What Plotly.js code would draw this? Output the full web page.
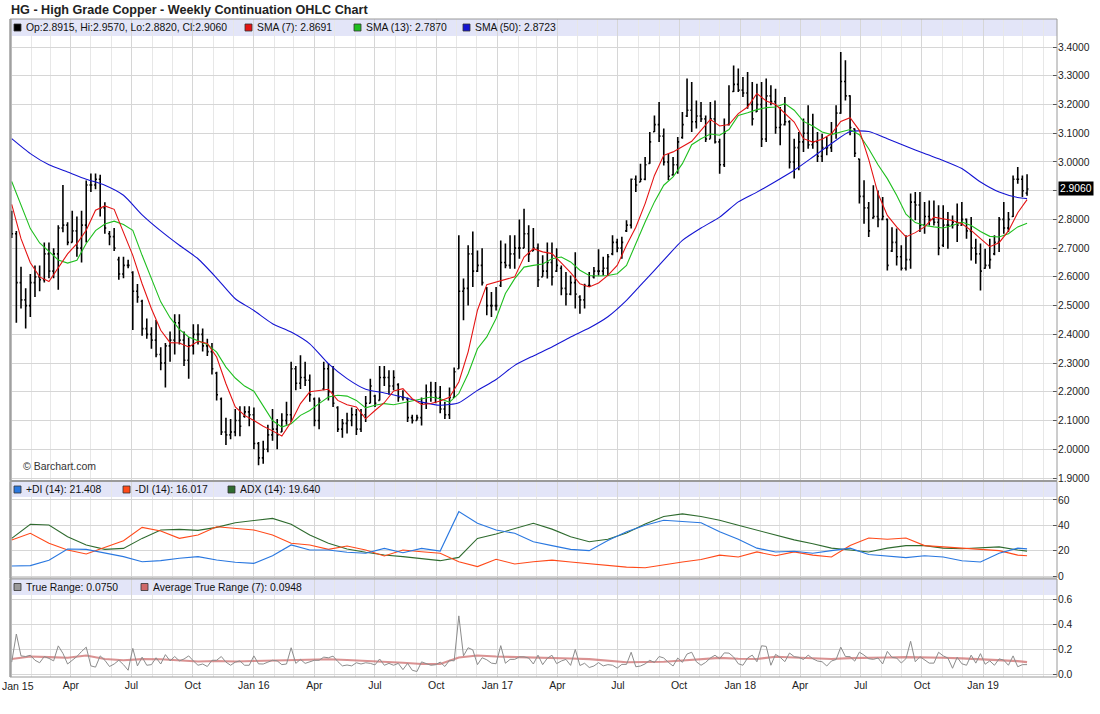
<!DOCTYPE html>
<html><head><meta charset="utf-8">
<script src="https://cdn.plot.ly/plotly-3.0.1.min.js"></script>
<style>html,body{margin:0;padding:0;background:#fff}#chart{width:1100px;height:714px}</style>
</head><body><div id="chart"></div>
<script>
// ---------- DATA (weekly bars, first bar week of 2015-01-02) ----------
const FIRST_WEEK = '2015-01-02';
const OPEN = [2.82,2.75,2.58,2.52,2.50,2.58,2.60,2.59,2.68,2.62,
 2.68,2.77,2.78,2.72,2.76,2.70,2.78,2.92,2.92,2.94,
 2.84,2.75,2.74,2.66,2.61,2.64,2.615,2.55,2.515,2.42,
 2.40,2.38,2.33,2.30,2.36,2.38,2.44,2.38,2.31,2.36,
 2.40,2.40,2.36,2.34,2.265,2.175,2.06,2.05,2.06,2.10,
 2.115,2.13,2.12,2.02,1.97,2.00,2.05,2.07,2.06,2.10,
 2.12,2.28,2.23,2.25,2.24,2.175,2.10,2.21,2.28,2.20,
 2.145,2.07,2.09,2.10,2.12,2.07,2.12,2.16,2.185,2.17,
 2.25,2.25,2.22,2.225,2.18,2.175,2.11,2.10,2.11,2.16,
 2.20,2.20,2.18,2.14,2.12,2.18,2.28,2.55,2.56,2.68,
 2.62,2.64,2.56,2.50,2.50,2.57,2.65,2.64,2.68,2.70,
 2.70,2.75,2.69,2.70,2.60,2.62,2.65,2.62,2.63,2.56,
 2.54,2.58,2.53,2.52,2.57,2.60,2.62,2.62,2.63,2.68,
 2.72,2.70,2.76,2.78,2.94,2.93,2.94,2.995,3.105,3.13,
 3.09,3.00,2.955,2.99,3.085,3.16,3.18,3.14,3.16,3.15,
 3.08,3.15,3.07,2.99,3.13,3.245,3.27,3.25,3.24,3.20,
 3.175,3.20,3.08,3.23,3.21,3.12,3.13,3.14,3.00,3.05,
 3.07,3.10,3.06,3.07,3.02,3.05,3.05,3.10,3.17,3.28,
 3.23,3.115,3.01,2.88,2.84,2.805,2.81,2.80,2.80,2.69,
 2.72,2.67,2.63,2.66,2.86,2.85,2.78,2.81,2.80,2.79,
 2.71,2.78,2.78,2.79,2.78,2.80,2.76,2.70,2.68,2.63,
 2.64,2.68,2.72,2.80,2.77,2.81,2.94,2.94,2.8915];
const HIGH = [2.83,2.76,2.635,2.56,2.61,2.64,2.64,2.72,2.72,2.70,
 2.78,2.92,2.79,2.83,2.81,2.83,2.935,2.96,2.96,2.955,
 2.86,2.76,2.77,2.67,2.67,2.66,2.62,2.575,2.52,2.455,
 2.425,2.45,2.355,2.37,2.41,2.47,2.47,2.41,2.39,2.435,
 2.435,2.42,2.385,2.37,2.27,2.18,2.11,2.105,2.14,2.15,
 2.15,2.15,2.145,2.025,2.03,2.085,2.14,2.105,2.125,2.165,
 2.305,2.29,2.327,2.305,2.26,2.18,2.18,2.305,2.30,2.29,
 2.15,2.105,2.127,2.145,2.14,2.14,2.185,2.245,2.19,2.29,
 2.29,2.275,2.275,2.23,2.205,2.18,2.12,2.12,2.18,2.225,
 2.235,2.234,2.22,2.165,2.215,2.285,2.745,2.594,2.71,2.758,
 2.692,2.70,2.565,2.547,2.565,2.727,2.716,2.745,2.745,2.80,
 2.837,2.78,2.77,2.716,2.675,2.72,2.72,2.70,2.64,2.617,
 2.605,2.686,2.536,2.576,2.617,2.634,2.696,2.67,2.68,2.745,
 2.733,2.74,2.797,2.942,2.953,2.994,3.017,3.104,3.162,3.209,
 3.116,3.029,3.017,3.087,3.174,3.29,3.278,3.214,3.209,3.162,
 3.209,3.214,3.081,3.151,3.267,3.336,3.325,3.296,3.313,3.278,
 3.272,3.278,3.29,3.267,3.255,3.191,3.226,3.145,3.081,3.104,
 3.151,3.197,3.168,3.104,3.098,3.087,3.139,3.197,3.383,3.354,
 3.232,3.116,3.011,2.936,2.861,2.919,2.901,2.878,2.803,2.773,
 2.768,2.71,2.745,2.89,2.895,2.895,2.861,2.866,2.866,2.849,
 2.849,2.826,2.814,2.855,2.861,2.803,2.808,2.733,2.716,2.698,
 2.733,2.745,2.808,2.861,2.826,2.953,2.982,2.953,2.957];
const LOW = [2.735,2.44,2.49,2.42,2.46,2.53,2.55,2.58,2.595,2.595,
 2.555,2.755,2.71,2.72,2.67,2.65,2.72,2.895,2.905,2.81,
 2.75,2.71,2.69,2.59,2.595,2.63,2.415,2.51,2.395,2.385,
 2.35,2.32,2.275,2.215,2.305,2.33,2.365,2.29,2.245,2.33,
 2.365,2.34,2.325,2.26,2.17,2.05,2.015,2.035,2.045,2.045,
 2.11,2.08,2.00,1.944,1.95,1.99,2.03,2.00,2.06,2.085,
 2.095,2.205,2.21,2.22,2.165,2.08,2.07,2.205,2.17,2.147,
 2.06,2.04,2.055,2.08,2.05,2.06,2.095,2.16,2.147,2.17,
 2.22,2.19,2.205,2.165,2.17,2.095,2.09,2.10,2.083,2.14,
 2.165,2.16,2.125,2.105,2.105,2.18,2.28,2.449,2.50,2.565,
 2.617,2.57,2.466,2.46,2.483,2.565,2.63,2.628,2.628,2.663,
 2.70,2.652,2.69,2.565,2.60,2.594,2.57,2.617,2.536,2.50,
 2.536,2.49,2.472,2.49,2.565,2.594,2.605,2.605,2.605,2.675,
 2.686,2.663,2.756,2.768,2.895,2.93,2.936,2.994,3.104,3.069,
 2.988,2.936,2.953,2.959,3.081,3.156,3.104,3.116,3.139,3.069,
 3.081,3.064,2.959,2.982,3.127,3.243,3.243,3.226,3.185,3.127,
 3.174,3.052,3.069,3.197,3.098,3.058,3.127,2.977,2.942,2.971,
 3.035,3.046,3.046,3.00,3.00,3.023,3.035,3.081,3.168,3.214,
 3.093,3.017,2.855,2.785,2.739,2.802,2.773,2.797,2.622,2.687,
 2.64,2.622,2.622,2.628,2.797,2.756,2.75,2.779,2.779,2.675,
 2.704,2.698,2.768,2.721,2.779,2.733,2.657,2.646,2.553,2.628,
 2.628,2.675,2.687,2.75,2.756,2.808,2.924,2.878,2.882];
const CLOSE = [2.75,2.58,2.52,2.50,2.58,2.60,2.59,2.68,2.62,2.68,
 2.77,2.78,2.72,2.76,2.70,2.78,2.92,2.92,2.94,2.84,
 2.77,2.74,2.70,2.61,2.64,2.64,2.55,2.53,2.42,2.40,
 2.38,2.33,2.30,2.36,2.38,2.44,2.38,2.31,2.36,2.40,
 2.40,2.36,2.34,2.28,2.19,2.06,2.05,2.06,2.10,2.08,
 2.13,2.12,2.02,1.97,2.00,2.05,2.07,2.05,2.10,2.12,
 2.28,2.23,2.25,2.24,2.19,2.10,2.17,2.28,2.20,2.16,
 2.07,2.09,2.10,2.12,2.07,2.12,2.16,2.22,2.16,2.25,
 2.25,2.22,2.25,2.18,2.18,2.11,2.10,2.11,2.16,2.20,
 2.20,2.18,2.14,2.12,2.18,2.27,2.55,2.56,2.68,2.62,
 2.64,2.58,2.50,2.50,2.50,2.65,2.64,2.68,2.70,2.70,
 2.75,2.68,2.70,2.59,2.62,2.65,2.60,2.64,2.56,2.54,
 2.58,2.54,2.52,2.57,2.57,2.62,2.62,2.63,2.67,2.72,
 2.70,2.72,2.78,2.94,2.92,2.94,2.99,3.07,3.13,3.09,
 3.00,2.95,2.99,3.07,3.13,3.18,3.14,3.16,3.15,3.08,
 3.15,3.07,2.99,3.10,3.20,3.27,3.25,3.24,3.20,3.15,
 3.20,3.08,3.23,3.21,3.12,3.13,3.14,3.00,3.05,3.07,
 3.10,3.06,3.07,3.02,3.05,3.05,3.10,3.17,3.28,3.23,
 3.12,3.03,2.88,2.84,2.76,2.81,2.80,2.81,2.64,2.72,
 2.67,2.63,2.66,2.86,2.85,2.78,2.81,2.80,2.79,2.70,
 2.78,2.78,2.79,2.78,2.80,2.76,2.70,2.68,2.62,2.64,
 2.66,2.72,2.80,2.77,2.80,2.94,2.94,2.90,2.906];
const TRUE_RANGE = [0.095,0.32,0.145,0.14,0.15,0.11,0.09,0.14,0.125,0.105,
 0.225,0.165,0.08,0.11,0.14,0.18,0.215,0.065,0.055,0.145,
 0.11,0.06,0.08,0.11,0.075,0.03,0.205,0.065,0.135,0.07,
 0.075,0.13,0.08,0.155,0.105,0.14,0.105,0.12,0.145,0.105,
 0.07,0.08,0.06,0.11,0.11,0.14,0.095,0.07,0.095,0.105,
 0.07,0.07,0.145,0.081,0.08,0.095,0.11,0.105,0.075,0.08,
 0.21,0.085,0.117,0.085,0.095,0.11,0.11,0.135,0.13,0.143,
 0.10,0.065,0.072,0.065,0.09,0.08,0.09,0.085,0.073,0.12,
 0.07,0.085,0.07,0.085,0.035,0.085,0.03,0.02,0.097,0.085,
 0.07,0.074,0.095,0.06,0.11,0.105,0.465,0.145,0.21,0.193,
 0.075,0.13,0.114,0.087,0.082,0.227,0.086,0.117,0.117,0.137,
 0.137,0.128,0.08,0.151,0.075,0.126,0.15,0.083,0.104,0.117,
 0.069,0.196,0.068,0.086,0.052,0.064,0.091,0.065,0.075,0.07,
 0.047,0.077,0.077,0.174,0.058,0.064,0.081,0.11,0.092,0.14,
 0.128,0.093,0.064,0.128,0.093,0.16,0.174,0.098,0.07,0.093,
 0.128,0.15,0.122,0.169,0.167,0.136,0.082,0.07,0.128,0.151,
 0.098,0.226,0.221,0.07,0.157,0.133,0.099,0.168,0.139,0.133,
 0.116,0.151,0.122,0.104,0.098,0.064,0.104,0.116,0.215,0.14,
 0.139,0.103,0.175,0.151,0.122,0.117,0.128,0.081,0.181,0.133,
 0.128,0.088,0.123,0.262,0.098,0.139,0.111,0.087,0.087,0.174,
 0.145,0.128,0.046,0.134,0.082,0.07,0.151,0.087,0.163,0.078,
 0.105,0.07,0.121,0.111,0.07,0.145,0.058,0.075,0.075];

// moving averages every 2nd week (weeks 0,2,4,...,218)
const SMA7 = [2.852,2.733,2.649,2.60,2.584,2.634,2.68,2.716,2.762,2.832,2.847,2.835,2.756,2.675,2.576,2.489,2.414,2.371,2.37,2.356,2.376,2.368,
 2.321,2.228,2.147,2.118,2.10,2.08,2.064,2.046,2.095,2.159,2.20,2.205,2.209,2.17,2.155,2.147,2.106,2.135,2.162,2.203,2.211,2.176,
 2.156,2.159,2.168,2.181,2.234,2.339,2.484,2.573,2.582,2.591,2.60,2.669,2.698,2.687,2.681,2.649,2.615,2.576,2.565,2.579,2.605,2.64,
 2.71,2.773,2.855,2.953,3.023,3.035,3.052,3.072,3.11,3.148,3.125,3.13,3.168,3.191,3.238,3.212,3.20,3.168,3.139,3.081,3.069,3.079,
 3.098,3.141,3.154,3.11,3.009,2.89,2.814,2.774,2.739,2.754,2.774,2.808,2.803,2.796,2.785,2.762,2.733,2.705,2.719,2.76,2.823,2.869];
const SMA13 = [2.932,2.847,2.768,2.718,2.689,2.659,2.648,2.658,2.716,2.761,2.784,2.794,2.782,2.762,2.675,2.594,2.513,2.458,2.417,2.391,2.377,2.365,
 2.338,2.286,2.248,2.22,2.202,2.153,2.10,2.077,2.089,2.118,2.135,2.159,2.182,2.188,2.185,2.17,2.144,2.153,2.159,2.155,2.162,2.167,
 2.176,2.182,2.176,2.164,2.194,2.263,2.35,2.391,2.455,2.542,2.594,2.634,2.64,2.645,2.663,2.669,2.652,2.623,2.605,2.603,2.605,2.611,
 2.64,2.716,2.791,2.861,2.919,2.948,2.994,3.06,3.081,3.097,3.093,3.113,3.162,3.171,3.182,3.189,3.191,3.203,3.18,3.141,3.125,3.104,
 3.095,3.104,3.113,3.095,3.046,2.99,2.942,2.884,2.818,2.789,2.779,2.774,2.77,2.779,2.791,2.779,2.758,2.741,2.739,2.75,2.774,2.787];

// slower series read every 4th week, plus the last bar
const SLOW_WEEKS = [0,4,8,12,16,20,24,28,32,36,40,44,48,52,56,60,64,68,72,76,80,84,88,92,96,100,104,108,112,116,120,124,128,132,136,140,144,148,152,156,160,164,168,172,176,180,184,188,192,196,200,204,208,212,216,218];
const SMA50 = [3.081,3.029,2.99,2.965,2.94,2.919,2.884,2.816,2.76,2.71,2.663,
 2.596,2.524,2.483,2.437,2.408,2.367,2.298,2.246,2.209,2.196,2.182,
 2.164,2.153,2.162,2.205,2.243,2.292,2.325,2.356,2.391,2.422,2.461,
 2.518,2.588,2.658,2.727,2.77,2.808,2.861,2.895,2.932,2.971,3.017,
 3.064,3.106,3.106,3.081,3.055,3.029,3.005,2.977,2.93,2.895,2.876,2.8723];
const PLUS_DI = [7.9,8.2,12.4,21.3,21,17.9,15.3,11.3,12.1,14,15.3,
 12.6,10.8,10,16,24.5,20.5,20.5,18.7,17.9,21.8,18.4,
 21.8,19.7,50.8,41.6,36.3,33.7,27.1,24,21,20,28,
 35,40,44,43,42,35,29,22,19,19.5,18,
 20,22,17,16,14.5,16,15,12,11,18,22,21.408];
const MINUS_DI = [28.4,33.7,25.8,20.5,17.4,22.6,27.9,38.4,35.5,29.7,32.4,
 38.9,37.6,36.3,32.4,25.8,24.5,21,23.7,20.5,15.8,20.5,
 19.2,17.9,11.3,7.4,13.2,9.5,11.3,12.5,11,9.5,8.5,
 7,6.5,9,11,13,16.5,15,19,16,19,16.5,
 15,24,30,29,30,24,23,22,21,20,16.5,16.017];
const ADX = [29.7,40.8,40.3,31,24.5,21,21.8,29.7,36.3,36.8,36,
 38.4,42.1,43.7,45.5,40.8,32.4,25.8,21.3,18.7,16.6,15.3,
 13.4,12.1,14.7,29.7,33.2,37.1,41.6,37,31,27,29,
 34,41,47,49,47,44,40,36,32,28.5,25.5,
 22,20.5,19,22,24,24,22,21.5,22,23,20.5,19.64];
const ATR7 = [0.12,0.14,0.135,0.13,0.148,0.12,0.11,0.119,0.118,0.11,0.10,
 0.104,0.10,0.104,0.108,0.113,0.118,0.118,0.112,0.106,0.097,0.09,
 0.08,0.08,0.132,0.148,0.14,0.137,0.135,0.13,0.124,0.119,0.108,
 0.094,0.096,0.098,0.108,0.119,0.129,0.122,0.12,0.138,0.132,0.127,
 0.12,0.127,0.132,0.132,0.135,0.135,0.13,0.125,0.118,0.112,0.103,0.0948];

const TICK_DATES = ['2015-01-01','2015-04-01','2015-07-01','2015-10-01','2016-01-01','2016-04-01','2016-07-01','2016-10-01','2017-01-01','2017-04-01','2017-07-01','2017-10-01','2018-01-01','2018-04-01','2018-07-01','2018-10-01','2019-01-01'];
const TICK_LABELS = ['Jan 15','Apr','Jul','Oct','Jan 16','Apr','Jul','Oct','Jan 17','Apr','Jul','Oct','Jan 18','Apr','Jul','Oct','Jan 19'];
const PRICE_TICKS = [1.9,2.0,2.1,2.2,2.3,2.4,2.5,2.6,2.7,2.8,2.9,3.0,3.1,3.2,3.3,3.4];
const LAST_CLOSE = 2.906;

// ---------- helpers ----------
const DAY = 86400000;
const t0 = Date.parse(FIRST_WEEK + 'T00:00:00Z');
const weekDate = i => new Date(t0 + i * 7 * DAY).toISOString().slice(0, 10);
const dates = CLOSE.map((_, i) => weekDate(i));
const fastX = SMA7.map((_, k) => weekDate(2 * k));
const slowX = SLOW_WEEKS.map(weekDate);

// pixel -> paper helpers (plot area: x 10..1057, y 19..677)
const PL = 10, PR = 1057, PT = 19, PB = 677;
const px = x => (x - PL) / (PR - PL);
const py = y => (PB - y) / (PB - PT);

const FONT = 'Liberation Sans, Arial, Helvetica, sans-serif';
const GRID = '#d6d6d6';
const LEG = 10.4;

const traces = [
  { type: 'ohlc', x: dates, open: OPEN, high: HIGH, low: LOW, close: CLOSE,
    xaxis: 'x', yaxis: 'y', tickwidth: 0.3,
    increasing: { line: { color: '#000', width: 1.6 } },
    decreasing: { line: { color: '#000', width: 1.6 } }, hoverinfo: 'skip' },
  { type: 'scatter', mode: 'lines', x: slowX, y: SMA50, line: { color: '#1414d2', width: 1.1, shape: 'spline', smoothing: 0.6 }, xaxis: 'x', yaxis: 'y' },
  { type: 'scatter', mode: 'lines', x: fastX, y: SMA13, line: { color: '#1fbf1f', width: 1.1 }, xaxis: 'x', yaxis: 'y' },
  { type: 'scatter', mode: 'lines', x: fastX, y: SMA7, line: { color: '#e41414', width: 1.1 }, xaxis: 'x', yaxis: 'y' },
  { type: 'scatter', mode: 'lines', x: slowX, y: ADX, line: { color: '#2f6b2f', width: 1.1 }, xaxis: 'x', yaxis: 'y2' },
  { type: 'scatter', mode: 'lines', x: slowX, y: MINUS_DI, line: { color: '#ff4a1a', width: 1.1 }, xaxis: 'x', yaxis: 'y2' },
  { type: 'scatter', mode: 'lines', x: slowX, y: PLUS_DI, line: { color: '#2a78e0', width: 1.1 }, xaxis: 'x', yaxis: 'y2' },
  { type: 'scatter', mode: 'lines', x: slowX, y: ATR7, line: { color: 'rgba(205,110,110,0.75)', width: 2.2 }, xaxis: 'x', yaxis: 'y3' },
  { type: 'scatter', mode: 'lines', x: dates, y: TRUE_RANGE, line: { color: '#8c8c8c', width: 1 }, xaxis: 'x', yaxis: 'y3' }
];

const yCommon = {
  side: 'right', showgrid: true, gridcolor: GRID, gridwidth: 1, zeroline: false,
  ticks: 'inside', ticklen: 4, tickcolor: '#555', showline: false,
  tickfont: { family: FONT, size: 10.3, color: '#222' }, fixedrange: true
};

const shapes = [];
const bands = [[19, 36], [481.5, 497], [579, 595]];
bands.forEach(b => shapes.push({ type: 'rect', xref: 'paper', yref: 'paper', x0: 0, x1: 1,
  y0: py(b[1]), y1: py(b[0]), fillcolor: '#e3e5f8', line: { width: 0 }, layer: 'below' }));
const frames = [[19, 480.5], [481.5, 578], [579, 677]];
frames.forEach(f => shapes.push({ type: 'rect', xref: 'paper', yref: 'paper', x0: 0, x1: 1,
  y0: py(f[1]), y1: py(f[0]), line: { color: '#9a9a9a', width: 1 }, fillcolor: 'rgba(0,0,0,0)', layer: 'above' }));
// thicker left border as in the reference
shapes.push({ type: 'line', xref: 'paper', yref: 'paper', x0: px(10.5), x1: px(10.5), y0: 0, y1: 1, line: { color: '#a0a0a0', width: 2 }, layer: 'above' });

const annotations = [];
function legendItem(xSq, yc, color, label) {
  shapes.push({ type: 'rect', xref: 'paper', yref: 'paper', x0: px(xSq), x1: px(xSq + 7),
    y0: py(yc + 3.5), y1: py(yc - 3.5), fillcolor: color, line: { color: '#333', width: 0.8 }, layer: 'above' });
  annotations.push({ xref: 'paper', yref: 'paper', x: px(xSq + 10), y: py(yc), xanchor: 'left', yanchor: 'middle',
    showarrow: false, text: label, font: { family: FONT, size: LEG, color: '#111' } });
}
legendItem(14, 27.5, '#000000', 'Op:2.8915, Hi:2.9570, Lo:2.8820, Cl:2.9060');
legendItem(245, 27.5, '#e41414', 'SMA (7): 2.8691');
legendItem(354, 27.5, '#1fbf1f', 'SMA (13): 2.7870');
legendItem(463, 27.5, '#1414d2', 'SMA (50): 2.8723');
legendItem(14, 489.5, '#2a78e0', '+DI (14): 21.408');
legendItem(123, 489.5, '#ff4a1a', '-DI (14): 16.017');
legendItem(228, 489.5, '#2f6b2f', 'ADX (14): 19.640');
legendItem(14, 587, '#9a9a9a', 'True Range: 0.0750');
legendItem(141, 587, '#d06a6a', 'Average True Range (7): 0.0948');

annotations.push({ xref: 'paper', yref: 'paper', x: px(9), y: py(9.5), xanchor: 'left', yanchor: 'middle', showarrow: false,
  text: '<b>HG - High Grade Copper - Weekly Continuation OHLC Chart</b>', font: { family: FONT, size: 12.6, color: '#222' } });
annotations.push({ xref: 'paper', yref: 'paper', x: px(21), y: py(466), xanchor: 'left', yanchor: 'middle', showarrow: false,
  text: '© Barchart.com', font: { family: FONT, size: 10.5, color: '#333' } });
annotations.push({ xref: 'paper', yref: 'y', x: 1, y: LAST_CLOSE, xanchor: 'left', yanchor: 'middle', xshift: 1, showarrow: false,
  text: LAST_CLOSE.toFixed(4), bgcolor: '#000', borderpad: 1, font: { family: FONT, size: 10.3, color: '#fff' } });
// first month label sits against the left edge (kept fully visible)
annotations.push({ xref: 'paper', yref: 'paper', x: px(0), y: py(686), xanchor: 'left', yanchor: 'middle', showarrow: false,
  text: TICK_LABELS[0], font: { family: FONT, size: 10.5, color: '#222' } });
const axisText = TICK_LABELS.map((t, i) => i === 0 ? ' ' : t);
// the last-price box hides the price label it sits on
const priceText = PRICE_TICKS.map(v => Math.abs(v - LAST_CLOSE) < 0.05 ? ' ' : v.toFixed(4));

const layout = {
  width: 1100, height: 714,
  margin: { l: PL, r: 1100 - PR, t: PT, b: 714 - PB, pad: 0 },
  paper_bgcolor: '#fff', plot_bgcolor: '#fff',
  showlegend: false, hovermode: false,
  font: { family: FONT, size: 10.5, color: '#222' },
  xaxis: {
    type: 'date', range: ['2014-12-30 10:48', '2019-04-22'], anchor: 'y3',
    tickmode: 'array', tickvals: TICK_DATES, ticktext: axisText,
    ticks: '', showgrid: true, gridcolor: GRID, gridwidth: 1, zeroline: false, showline: false,
    ticklabeloverflow: 'allow',
    minor: { tickmode: 'linear', tick0: '2015-01-01', dtick: 'M1', showgrid: true, gridcolor: '#e7e7e7', gridwidth: 1, ticks: '' },
    tickfont: { family: FONT, size: 10.5, color: '#222' },
    rangeslider: { visible: false }, fixedrange: true
  },
  yaxis: Object.assign({}, yCommon, { domain: [py(480.5), 1], range: [1.8913, 3.4975],
    tickmode: 'array', tickvals: PRICE_TICKS, ticktext: priceText }),
  yaxis2: Object.assign({}, yCommon, { domain: [py(578), py(481.5)], range: [-1.58, 74.6],
    tickmode: 'array', tickvals: [0, 20, 40, 60] }),
  yaxis3: Object.assign({}, yCommon, { domain: [0, py(579)], range: [-0.024, 0.76],
    tickmode: 'array', tickvals: [0, 0.2, 0.4, 0.6], tickformat: '.1f' }),
  shapes: shapes,
  annotations: annotations
};

Plotly.newPlot('chart', traces, layout, { staticPlot: true, displayModeBar: false });
</script>
</body></html>
